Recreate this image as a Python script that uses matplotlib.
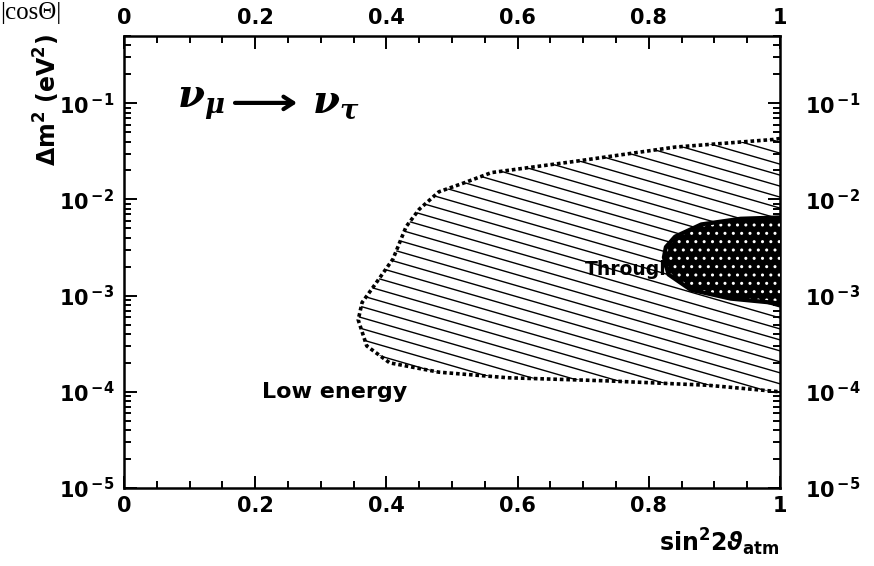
import numpy as np
import matplotlib
matplotlib.use("Agg")
import matplotlib.pyplot as plt
from matplotlib.patches import Polygon
from matplotlib.transforms import ScaledTranslation
from matplotlib.ticker import MultipleLocator, LogLocator, FuncFormatter, NullFormatter

plt.rcParams['font.family'] = ['DejaVu Sans']
plt.rcParams['font.weight'] = 'bold'
plt.rcParams['mathtext.fontset'] = 'dejavusans'

# allowed region from low energy events (sin^2 2theta, dm^2 in eV^2)
low_sin2 = [1.00, 0.99, 0.84, 0.69, 0.56, 0.52, 0.48, 0.45, 0.43, 0.41,
            0.38, 0.363, 0.357, 0.37, 0.405, 0.48, 0.585, 0.736, 0.89, 1.00]
low_dm2 = [4.3e-2, 4.2e-2, 3.5e-2, 2.5e-2, 1.9e-2, 1.5e-2, 1.2e-2, 7.9e-3, 5.2e-3, 2.4e-3,
           1.23e-3, 8.5e-4, 5.6e-4, 3.0e-4, 2.0e-4, 1.6e-4, 1.4e-4, 1.3e-4, 1.17e-4, 1.0e-4]

# allowed region from throughgoing muons
thr_sin2 = [1.00, 0.94, 0.88, 0.84, 0.826, 0.823, 0.83, 0.864, 0.925, 1.00]
thr_dm2 = [6.5e-3, 6.3e-3, 5.5e-3, 4.1e-3, 3.2e-3, 2.5e-3, 1.66e-3, 1.15e-3, 9.3e-4, 8.3e-4]

fig = plt.figure(figsize=(8.74, 5.66), dpi=100)
ax = fig.add_axes([124/874, 1-488/566, 656/874, 452/566])
ax.set_xlim(0, 1)
ax.set_yscale('log')
ax.set_ylim(1e-5, 0.5)

# low energy region: shallow diagonal hatching clipped to the contour
low = Polygon(np.column_stack([low_sin2, low_dm2]), closed=True,
              facecolor='none', edgecolor='none', transform=ax.transData)
ax.add_patch(low)
slope = 0.42
for c in np.arange(-0.2, 1.8, 0.0243):
    ln, = ax.plot([0, 1], [c, c - slope], color='black', lw=1.0,
                  transform=ax.transAxes, zorder=1)
    ln.set_clip_path(low)
ax.plot(low_sin2, low_dm2, color='black', lw=2.6, linestyle=(0, (1, 0.8)), zorder=3)

ax.text(0.703, 1.86e-3, 'Throughgoing', fontsize=13.5, fontweight='bold',
        va='center', ha='left', zorder=2)

# throughgoing region: dark stippled blob
thr = Polygon(np.column_stack([thr_sin2, thr_dm2]), closed=True,
              facecolor='black', edgecolor='white', hatch='..', lw=0, zorder=4)
ax.add_patch(thr)
ax.plot(thr_sin2, thr_dm2, color='black', lw=3, zorder=5)

ax.text(0.21, 1.0e-4, 'Low energy', fontsize=16, fontweight='bold',
        va='center', ha='left')

# nu_mu -> nu_tau
ax.text(0.081, 0.852, r'$\mathbfit{\nu}_{\mathbfit{\mu}}$', transform=ax.transAxes,
        fontsize=28, math_fontfamily='dejavuserif', va='center', ha='left')
ax.annotate('', xy=(0.268, 0.852), xytext=(0.165, 0.852), xycoords='axes fraction',
            arrowprops=dict(arrowstyle='->,head_length=0.7,head_width=0.45', lw=3, color='black'))
ax.text(0.287, 0.852, r'$\mathbfit{\nu}_{\mathbfit{\tau}}$', transform=ax.transAxes,
        fontsize=28, math_fontfamily='dejavuserif', va='center', ha='left')

# axes and ticks
ax.xaxis.set_major_locator(MultipleLocator(0.2))
ax.xaxis.set_minor_locator(MultipleLocator(0.05))
ax.xaxis.set_major_formatter(FuncFormatter(lambda v, p: f'{v:g}'))
ax.yaxis.set_major_locator(LogLocator(base=10, numticks=10))
ax.yaxis.set_minor_locator(LogLocator(base=10, subs=np.arange(2, 10), numticks=10))
ax.yaxis.set_minor_formatter(NullFormatter())
ax.yaxis.set_major_formatter(FuncFormatter(
    lambda v, p: r'$\mathbf{10}^{\,\mathbf{%d}}$' % round(np.log10(v))))

ax.tick_params(which='both', direction='in', top=True, right=True,
               labeltop=True, labelright=True, width=1.4)
ax.tick_params(which='major', length=9, labelsize=15)
ax.tick_params(which='minor', length=5)
ax.tick_params(axis='x', which='major', pad=6)
ax.tick_params(axis='y', which='major', pad=7)
for s in ax.spines.values():
    s.set_linewidth(1.8)

# right-hand labels sit further out than the left ones
shift = ScaledTranslation(11/72, 0, fig.dpi_scale_trans)
for t in ax.yaxis.get_major_ticks():
    t.label2.set_transform(t.label2.get_transform() + shift)

fig.text(47/874, 1-100/566, r'$\mathbf{\Delta m^2\ (eV^2)}$', rotation=90,
         fontsize=17, ha='center', va='center')
fig.text(780/874, 1-542/566, r'$\mathbf{sin^2 2}\mathbfit{\vartheta}_{\mathbf{atm}}$',
         fontsize=17, ha='right', va='center')
fig.text(0.0, 1-13/566, '|cosΘ|', fontsize=18, fontweight='normal',
         family='Liberation Serif', ha='left', va='center')

fig.savefig('out.png', dpi=100)
